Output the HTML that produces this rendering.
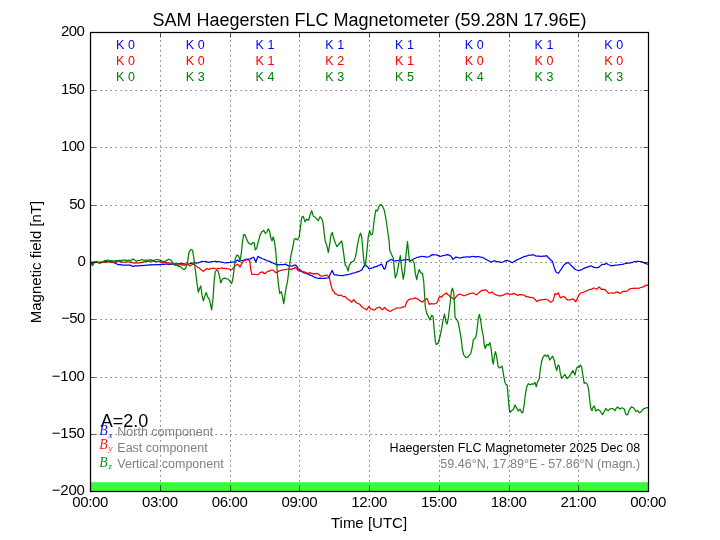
<!DOCTYPE html>
<html><head><meta charset="utf-8"><title>SAM Haegersten FLC Magnetometer</title>
<style>
html,body{margin:0;padding:0;background:#fff;}
body{width:720px;height:540px;overflow:hidden;}
svg{display:block;font-family:"Liberation Sans",Arial,Helvetica,sans-serif;}
.t15{font-size:15px;fill:#000}
.t125{font-size:12.5px}
.g{stroke:#000;stroke-width:0.625;stroke-dasharray:1.25 3.75;fill:none}
.tk{stroke:#000;stroke-width:0.625;fill:none}
.ln{fill:none;stroke-width:1.25;stroke-linejoin:round;stroke-linecap:butt}
.m{font-family:"Liberation Serif","DejaVu Serif",serif;font-style:italic}
</style></head><body>
<svg width="720" height="540" viewBox="0 0 720 540">
<rect width="720" height="540" fill="#fff"/>

<rect x="90.0" y="482.22" width="558.0" height="9.18" fill="#38fc38"/>
<clipPath id="c"><rect x="90.0" y="32.4" width="558.0" height="459.0"/></clipPath><g clip-path="url(#c)">
<path class="ln" stroke="#0000ff" d="M90.0,262.2 L90.8,262.4 L92.2,262.4 L93.6,262.1 L95.0,262.0 L96.2,262.3 L97.5,262.3 L98.8,262.6 L100.0,263.1 L101.2,262.6 L102.5,262.2 L103.8,262.2 L105.0,261.7 L106.1,261.7 L107.2,261.4 L108.3,261.4 L109.4,261.4 L110.6,261.8 L111.7,262.1 L112.8,262.3 L113.9,262.8 L115.0,263.1 L116.1,263.4 L117.2,264.2 L118.3,264.7 L119.6,264.7 L120.8,264.6 L122.1,265.1 L123.3,265.0 L124.4,265.1 L125.6,265.2 L126.7,265.1 L127.8,265.2 L128.9,265.0 L130.0,265.1 L131.2,265.6 L132.5,266.3 L133.7,266.3 L134.8,265.9 L136.0,265.8 L137.2,265.8 L138.3,266.0 L139.4,265.7 L140.6,265.7 L141.7,265.5 L142.8,265.5 L143.9,265.4 L145.0,265.3 L146.2,265.2 L147.5,265.0 L148.8,265.0 L150.0,264.7 L151.1,264.8 L152.2,264.8 L153.3,264.9 L154.4,264.7 L155.6,264.5 L156.7,264.8 L157.9,264.7 L159.2,264.6 L160.4,264.3 L161.7,264.3 L162.8,264.1 L163.9,264.3 L165.0,264.2 L166.1,264.1 L167.2,264.0 L168.3,264.3 L169.6,264.4 L170.8,264.0 L172.1,264.3 L173.3,264.1 L174.6,263.9 L175.8,263.8 L177.1,263.9 L178.3,263.8 L179.6,263.5 L180.8,263.8 L182.1,263.6 L183.3,263.9 L184.4,263.9 L185.6,264.2 L186.7,264.4 L187.8,264.0 L188.9,264.0 L190.0,263.6 L191.1,263.3 L192.2,263.3 L193.3,262.8 L194.6,262.9 L195.8,263.0 L197.1,263.0 L198.3,262.9 L199.4,262.3 L200.6,262.0 L201.7,261.3 L202.8,261.5 L203.9,261.5 L205.0,261.3 L206.1,261.6 L207.2,262.0 L208.3,262.4 L209.6,262.1 L210.8,261.9 L212.1,261.6 L213.3,261.5 L214.4,261.4 L215.6,261.4 L216.7,261.6 L217.8,261.5 L218.9,261.5 L220.0,261.9 L221.2,262.0 L222.5,262.4 L223.8,262.5 L225.0,263.0 L226.2,262.9 L227.5,262.5 L228.8,262.5 L230.0,262.4 L231.2,262.1 L232.5,262.2 L233.8,262.1 L235.0,262.1 L236.2,260.9 L237.5,260.1 L239.2,261.4 L240.3,260.8 L241.4,260.5 L242.5,260.4 L243.9,260.1 L245.3,259.5 L246.7,259.2 L247.8,259.2 L248.9,259.1 L250.0,259.1 L251.2,258.4 L252.4,257.8 L253.7,257.2 L255.8,261.9 L258.0,256.3 L259.4,257.3 L260.8,257.8 L262.0,258.5 L263.2,259.0 L264.3,259.3 L265.5,259.8 L266.7,260.5 L267.9,260.8 L269.2,261.3 L270.4,261.9 L271.7,262.6 L272.9,262.9 L274.2,263.5 L275.4,264.1 L276.7,264.8 L277.9,264.6 L279.2,264.8 L280.4,264.5 L281.7,264.6 L282.8,264.6 L283.9,264.5 L285.0,264.2 L286.1,264.6 L287.2,265.1 L288.3,265.8 L289.7,265.7 L291.1,266.0 L292.5,266.0 L293.6,265.4 L294.7,265.2 L295.8,265.1 L297.1,266.9 L298.3,268.8 L299.6,269.6 L300.8,270.4 L302.1,271.5 L303.3,272.6 L304.4,272.8 L305.6,273.3 L306.7,273.7 L307.8,274.1 L308.9,274.5 L310.0,275.2 L311.1,275.4 L312.2,275.8 L313.3,276.7 L314.4,277.2 L315.6,277.7 L316.7,278.0 L317.8,278.2 L318.9,278.3 L320.0,278.1 L321.1,278.3 L322.2,278.4 L323.3,278.4 L324.6,278.3 L325.8,278.1 L327.1,278.0 L328.3,277.9 L330.0,274.8 L332.0,270.4 L334.2,274.6 L335.6,275.0 L336.9,274.9 L338.3,275.5 L339.6,275.4 L340.8,275.5 L342.1,275.5 L343.3,275.5 L344.6,275.2 L345.8,274.8 L347.1,274.9 L348.3,274.5 L349.6,274.2 L350.8,273.9 L352.1,273.4 L353.3,273.0 L354.6,272.8 L355.8,272.4 L357.1,271.9 L358.3,271.6 L359.4,271.3 L360.6,270.5 L361.7,270.1 L362.9,267.9 L364.2,265.7 L365.8,265.0 L366.9,266.4 L368.1,267.3 L369.2,268.8 L370.6,268.4 L371.9,268.0 L373.3,267.6 L374.6,266.9 L375.8,266.7 L377.1,266.4 L378.3,265.6 L379.4,265.2 L380.6,264.6 L381.7,264.2 L382.9,266.6 L384.2,269.2 L385.3,268.4 L386.7,262.3 L388.1,261.4 L389.4,260.5 L390.8,259.5 L392.2,259.9 L393.6,260.6 L395.0,261.0 L396.1,260.6 L397.2,260.7 L398.3,260.5 L399.4,260.4 L400.6,260.4 L401.7,260.4 L402.9,260.2 L404.2,259.9 L405.4,259.7 L406.7,259.6 L407.9,259.7 L409.2,260.0 L410.4,260.3 L411.7,260.3 L412.9,259.5 L414.2,258.8 L415.4,258.2 L416.7,257.5 L417.9,257.3 L419.2,256.9 L420.4,256.7 L421.7,256.4 L422.9,256.5 L424.2,256.6 L425.4,256.8 L426.7,257.1 L428.3,257.0 L429.7,256.3 L431.1,255.4 L432.5,254.6 L433.9,254.8 L435.3,255.0 L436.7,254.8 L437.8,255.4 L438.9,255.9 L440.0,256.5 L441.4,256.2 L442.8,255.6 L444.2,255.5 L445.3,255.2 L446.4,254.8 L447.5,254.7 L448.6,254.9 L449.7,255.6 L450.8,255.9 L453.0,259.3 L454.4,258.2 L455.8,257.1 L457.2,257.4 L458.6,257.7 L460.0,257.8 L461.2,257.8 L462.5,257.3 L463.8,257.1 L465.0,257.1 L466.2,256.8 L467.5,256.8 L468.8,256.8 L470.0,257.2 L471.1,256.6 L472.2,256.4 L473.3,256.5 L474.6,256.5 L475.8,257.1 L477.1,256.7 L478.3,256.5 L479.7,256.9 L481.1,257.1 L482.5,257.6 L483.9,258.0 L485.3,259.1 L486.7,259.7 L488.1,260.5 L489.4,261.1 L490.8,262.1 L491.9,261.8 L493.1,261.0 L494.2,260.8 L495.3,261.1 L496.4,261.5 L497.5,261.6 L498.9,261.8 L500.3,262.1 L501.7,262.5 L502.9,262.0 L504.2,261.3 L505.4,260.8 L506.7,260.3 L507.8,260.7 L508.9,261.2 L510.0,261.5 L511.2,262.1 L512.5,262.7 L513.9,261.6 L515.3,260.9 L516.7,259.9 L518.1,259.4 L519.4,258.8 L520.8,258.1 L522.2,257.5 L523.6,256.9 L525.0,256.4 L526.4,256.2 L527.8,255.5 L529.2,255.2 L530.6,255.2 L531.9,255.1 L533.3,254.7 L534.4,255.2 L535.6,255.9 L536.7,256.2 L537.9,256.2 L539.2,256.2 L540.4,256.4 L541.7,256.3 L542.9,256.1 L544.2,256.2 L545.4,256.1 L546.7,255.7 L547.8,257.0 L548.9,258.0 L550.0,259.3 L551.2,260.5 L552.5,261.6 L554.2,267.4 L555.8,271.8 L557.1,272.7 L558.3,273.3 L559.6,271.5 L560.8,269.9 L562.1,267.8 L563.3,265.9 L564.6,264.4 L565.8,263.5 L567.1,262.9 L568.3,262.5 L569.4,263.6 L570.6,264.9 L571.7,266.0 L572.8,267.0 L573.9,268.0 L575.0,269.3 L576.5,270.0 L578.0,270.5 L579.2,270.3 L580.4,270.1 L581.7,269.7 L583.1,268.8 L584.4,268.1 L585.8,267.6 L587.1,267.2 L588.3,266.8 L589.6,266.4 L590.8,265.7 L591.9,266.3 L593.1,266.8 L594.2,267.4 L595.6,267.6 L596.9,267.6 L598.3,267.7 L599.4,266.5 L600.6,265.8 L601.7,264.6 L602.9,264.4 L604.2,264.3 L605.4,263.8 L606.7,263.5 L608.1,264.5 L609.4,265.0 L610.8,265.8 L612.2,265.7 L613.6,265.6 L615.0,265.1 L616.2,265.1 L617.5,265.0 L618.8,264.8 L620.0,264.6 L621.2,264.5 L622.5,264.4 L623.8,263.9 L625.0,263.7 L626.2,263.4 L627.5,263.2 L628.8,263.2 L630.0,262.8 L631.4,262.7 L632.8,262.3 L634.2,261.5 L635.6,261.7 L636.9,261.3 L638.3,261.3 L639.7,261.5 L641.1,261.6 L642.5,262.1 L643.6,262.6 L644.7,263.2 L645.8,263.6 L647.1,264.0 L648.3,264.4"/>
<path class="ln" stroke="#ff0000" d="M90.0,262.2 L90.8,262.7 L92.5,264.2 L94.2,262.2 L95.3,262.5 L96.5,262.4 L97.7,262.7 L98.8,262.7 L100.0,262.6 L101.1,262.1 L102.2,262.5 L103.3,262.4 L104.4,261.9 L105.6,262.4 L106.7,262.1 L107.9,261.6 L109.0,262.3 L110.2,261.5 L111.4,261.7 L112.6,262.0 L113.8,261.8 L115.0,261.7 L116.2,261.8 L117.4,261.7 L118.6,261.6 L119.8,261.6 L121.0,261.5 L122.1,262.1 L123.3,262.2 L124.4,262.0 L125.6,262.2 L126.7,261.9 L127.8,261.8 L128.9,261.9 L130.0,262.3 L131.1,261.9 L132.2,262.7 L133.3,262.8 L134.6,263.2 L135.8,262.9 L137.1,262.8 L138.3,262.9 L139.6,262.8 L140.8,262.7 L142.1,262.1 L143.3,262.3 L144.4,261.5 L145.6,261.6 L146.7,261.3 L147.8,261.2 L148.9,261.7 L150.0,261.5 L151.1,261.0 L152.2,261.1 L153.3,261.3 L154.4,261.5 L155.6,261.6 L156.7,261.6 L157.8,261.6 L158.9,261.4 L160.0,261.8 L161.1,261.8 L162.2,262.3 L163.3,262.6 L164.6,262.4 L165.8,262.5 L167.1,263.1 L168.3,262.6 L169.6,263.4 L170.8,263.7 L172.1,263.9 L173.3,263.6 L174.4,264.2 L175.6,264.6 L176.7,265.1 L178.1,265.3 L179.4,264.9 L180.8,264.5 L182.2,265.1 L183.6,264.9 L185.0,265.1 L186.2,264.8 L187.5,263.7 L188.8,265.2 L190.0,266.0 L192.0,264.7 L194.2,264.2 L195.4,265.4 L196.7,266.4 L197.8,267.4 L198.9,267.6 L200.0,268.7 L201.1,269.7 L202.2,270.4 L203.3,271.4 L204.6,270.4 L205.8,269.0 L207.1,268.6 L208.3,269.4 L209.4,269.1 L210.6,268.4 L211.7,268.5 L212.9,268.4 L214.2,268.3 L215.4,268.7 L216.7,269.1 L217.9,268.3 L219.2,268.7 L220.4,268.3 L221.7,267.7 L222.9,268.4 L224.2,268.3 L225.4,268.6 L226.7,268.5 L228.1,269.0 L229.4,269.1 L230.8,269.9 L232.1,269.2 L233.3,268.3 L234.6,266.4 L235.8,265.2 L237.5,264.2 L238.8,265.5 L240.0,267.1 L241.2,264.6 L242.5,262.2 L243.8,261.1 L245.0,260.3 L246.2,260.2 L247.5,259.7 L249.7,260.8 L250.8,270.1 L252.0,274.5 L253.5,274.4 L255.0,274.4 L256.2,274.5 L257.5,274.7 L258.8,274.1 L260.0,272.7 L261.7,271.9 L262.8,272.4 L263.9,273.1 L265.0,273.8 L266.1,272.6 L267.2,271.7 L268.3,271.1 L269.7,271.1 L271.1,270.1 L272.5,270.0 L273.6,270.7 L274.7,271.7 L275.8,272.7 L277.1,272.2 L278.3,271.4 L279.4,270.8 L280.6,270.4 L281.7,270.0 L282.8,270.2 L283.9,269.7 L285.0,269.6 L286.1,269.5 L287.2,269.0 L288.3,268.9 L289.4,268.6 L290.6,269.2 L291.7,269.6 L292.9,268.5 L294.1,268.6 L295.3,267.2 L296.8,268.8 L298.3,270.8 L299.6,270.8 L300.8,271.5 L302.1,271.6 L303.3,271.7 L304.6,271.9 L305.8,272.9 L307.1,272.8 L308.3,273.6 L310.0,272.5 L311.1,273.4 L312.2,273.4 L313.3,273.9 L314.4,273.7 L315.6,273.9 L316.7,273.4 L317.8,273.9 L318.9,274.3 L320.0,275.5 L321.1,276.1 L322.2,276.1 L323.3,275.9 L324.4,275.6 L325.6,275.3 L326.7,275.0 L327.9,276.0 L329.2,277.1 L330.8,284.3 L332.5,290.4 L333.8,291.4 L335.0,293.8 L336.1,293.9 L337.2,294.7 L338.3,295.4 L339.4,295.7 L340.6,295.1 L341.7,295.7 L342.8,296.2 L343.9,296.8 L345.0,296.3 L346.1,297.5 L347.2,299.0 L348.3,299.3 L349.4,300.3 L350.6,301.1 L351.7,302.2 L353.7,299.6 L355.8,302.2 L356.9,303.1 L358.1,303.5 L359.2,304.0 L360.4,305.0 L361.7,306.7 L362.9,307.4 L364.2,308.6 L365.4,308.9 L366.7,309.9 L368.7,306.7 L370.8,309.0 L371.9,309.1 L373.1,309.9 L374.2,310.1 L375.4,309.2 L376.7,307.9 L378.2,307.7 L379.7,307.2 L381.1,308.9 L382.5,309.6 L384.7,307.5 L385.8,308.8 L387.0,309.8 L388.3,310.3 L389.7,311.4 L391.1,311.0 L392.5,309.8 L393.8,309.5 L395.0,309.0 L396.2,308.0 L397.5,307.9 L398.8,308.0 L400.0,307.9 L401.2,307.6 L402.5,307.1 L403.8,306.8 L405.0,306.7 L407.0,301.3 L408.7,299.7 L410.2,299.1 L411.7,298.8 L412.8,299.0 L413.9,298.4 L415.0,297.9 L416.1,298.3 L417.2,299.0 L418.3,299.2 L420.0,300.9 L421.2,301.3 L422.5,302.1 L423.8,300.6 L425.0,300.1 L427.0,298.3 L429.2,304.4 L430.4,303.8 L431.7,303.6 L432.9,303.8 L434.2,303.9 L435.4,303.5 L436.7,303.0 L437.9,300.7 L439.2,297.2 L440.4,296.7 L441.7,297.1 L442.9,295.1 L444.2,294.5 L446.3,293.0 L447.8,294.5 L449.2,295.6 L450.4,297.0 L451.7,297.6 L452.9,298.5 L454.2,299.4 L455.3,298.1 L456.4,296.3 L457.5,295.1 L458.6,294.7 L459.7,294.1 L460.8,294.5 L461.9,294.8 L463.1,295.6 L464.2,295.6 L465.6,295.3 L466.9,294.7 L468.3,294.4 L469.7,293.4 L471.1,293.3 L472.5,293.0 L473.9,293.2 L475.3,294.2 L476.7,294.9 L477.8,293.6 L478.9,292.8 L480.0,291.8 L481.1,290.9 L482.2,290.4 L483.3,290.4 L484.6,289.9 L485.8,289.9 L486.9,290.7 L488.1,292.0 L489.2,293.0 L490.4,292.9 L491.7,291.9 L492.8,292.8 L493.9,293.8 L495.0,294.3 L496.4,295.1 L497.8,295.3 L499.2,295.8 L500.6,295.8 L501.9,295.4 L503.3,295.1 L504.7,294.2 L506.1,294.0 L507.5,293.2 L508.6,294.1 L509.7,294.3 L510.8,294.0 L511.9,294.4 L513.1,293.6 L514.2,293.3 L515.3,294.4 L516.4,294.6 L517.5,295.3 L518.6,295.2 L519.7,294.5 L520.8,294.9 L521.9,294.7 L523.1,295.0 L524.2,295.2 L525.3,296.1 L526.4,296.7 L527.5,296.8 L528.8,296.9 L530.0,297.3 L531.2,297.7 L532.5,297.6 L533.8,298.3 L535.0,299.4 L536.7,301.5 L537.9,300.9 L539.2,300.1 L540.3,300.1 L541.4,299.8 L542.5,299.7 L543.6,299.6 L544.7,299.4 L545.8,299.2 L547.1,299.8 L548.3,300.2 L549.6,301.7 L550.8,302.3 L553.0,300.8 L555.0,293.7 L556.7,294.4 L558.3,292.8 L560.3,297.8 L562.5,296.9 L563.8,296.6 L565.0,297.2 L566.2,298.8 L567.5,300.0 L568.8,299.9 L570.0,299.9 L571.5,299.2 L573.0,298.9 L574.4,300.0 L575.8,301.8 L577.1,298.8 L578.3,296.3 L579.6,294.2 L580.8,293.0 L582.1,292.5 L583.3,292.4 L584.4,291.8 L585.6,291.0 L586.7,290.9 L587.8,290.1 L588.9,289.9 L590.0,289.4 L591.1,289.5 L592.2,288.7 L593.3,288.1 L594.4,288.2 L595.6,288.8 L596.7,289.3 L597.9,288.1 L599.2,287.0 L600.4,288.4 L601.7,289.4 L602.8,289.2 L603.9,289.6 L605.0,289.4 L606.1,290.6 L607.2,292.2 L608.3,293.4 L609.4,293.1 L610.6,293.0 L611.7,292.9 L612.8,293.2 L613.9,293.1 L615.0,292.9 L616.2,292.1 L617.5,291.8 L618.8,292.9 L620.0,293.6 L621.1,292.8 L622.2,291.9 L623.3,291.3 L624.6,291.2 L625.8,291.4 L626.9,291.0 L628.1,290.4 L629.2,289.2 L630.3,288.8 L631.4,288.5 L632.5,288.3 L633.6,288.5 L634.7,288.1 L635.8,288.4 L637.1,288.0 L638.3,288.5 L639.4,288.1 L640.6,287.5 L641.7,287.3 L642.8,286.9 L643.9,286.6 L645.0,285.9 L646.1,285.1 L647.2,285.3 L648.3,285.0"/>
<path class="ln" stroke="#008000" d="M90.0,262.0 L90.8,263.0 L92.5,265.7 L94.2,262.6 L95.8,261.6 L97.1,261.6 L98.3,262.6 L99.4,262.2 L100.6,262.2 L101.7,262.3 L102.8,261.8 L103.9,261.1 L105.0,260.3 L106.1,260.7 L107.2,260.2 L108.3,260.2 L109.6,260.7 L110.8,260.5 L112.1,260.5 L113.3,261.1 L114.4,261.1 L115.6,260.6 L116.7,260.6 L117.8,260.5 L118.9,260.3 L120.0,260.3 L121.1,260.8 L122.2,260.1 L123.3,260.2 L124.4,260.2 L125.6,260.1 L126.7,260.3 L127.9,260.4 L129.2,260.4 L130.4,260.2 L131.7,260.2 L133.0,259.0 L135.0,260.3 L136.2,261.1 L137.5,260.7 L138.8,260.5 L140.0,260.3 L142.0,259.5 L144.2,260.5 L145.3,260.1 L146.4,260.1 L147.5,260.5 L148.6,259.8 L149.7,260.2 L150.8,259.6 L151.9,260.3 L153.1,260.3 L154.2,260.4 L155.6,259.8 L156.9,259.5 L158.3,259.7 L159.6,259.8 L160.8,260.3 L161.9,261.1 L163.1,261.5 L164.2,261.4 L165.4,261.3 L166.7,260.4 L168.7,259.2 L170.8,260.1 L172.1,261.6 L173.3,263.3 L175.0,265.3 L176.7,264.7 L178.3,266.4 L179.6,266.6 L180.8,266.9 L182.5,268.6 L184.2,269.7 L185.8,268.1 L187.5,262.8 L188.7,253.7 L190.0,250.3 L191.3,249.5 L192.5,250.2 L193.7,257.0 L194.7,265.0 L195.8,273.5 L197.0,283.2 L198.3,292.2 L199.7,288.2 L200.8,286.0 L202.0,295.2 L203.3,300.9 L204.7,296.6 L206.2,292.5 L207.5,296.6 L209.2,299.2 L210.3,303.6 L211.7,309.8 L213.0,298.4 L214.2,280.3 L215.3,271.6 L216.7,270.1 L218.0,270.7 L219.2,275.2 L220.8,282.8 L222.5,279.0 L224.7,278.1 L226.7,278.9 L228.3,279.0 L230.0,281.6 L231.7,283.6 L233.0,278.1 L234.2,268.0 L235.3,258.6 L237.0,254.9 L238.7,256.2 L240.0,261.0 L241.3,253.3 L242.5,241.9 L243.7,234.7 L245.0,234.7 L246.3,238.3 L247.5,241.4 L249.2,243.7 L251.3,244.5 L253.0,242.5 L254.2,242.9 L255.3,249.9 L256.7,248.2 L258.3,241.7 L260.0,235.3 L261.7,232.0 L263.7,230.3 L265.3,233.6 L266.7,232.4 L268.3,228.7 L269.7,231.5 L270.8,238.1 L272.0,240.8 L273.3,236.8 L274.7,243.2 L275.8,251.8 L276.7,263.2 L277.5,275.3 L278.7,286.6 L279.7,293.3 L281.3,291.7 L282.5,296.9 L283.7,303.7 L285.0,295.0 L286.3,286.6 L287.5,281.8 L288.7,271.4 L290.0,261.6 L291.3,253.6 L292.5,248.5 L294.2,239.4 L295.8,238.6 L297.5,239.9 L299.2,237.0 L300.3,228.2 L301.7,217.3 L303.3,216.4 L305.0,221.9 L306.7,219.1 L308.7,220.3 L310.0,215.1 L311.7,210.7 L313.3,216.2 L315.0,217.0 L316.7,219.1 L318.3,220.7 L320.0,216.8 L321.7,218.6 L323.0,222.6 L324.2,233.1 L325.3,241.5 L326.7,244.9 L328.3,252.6 L329.7,244.7 L330.8,235.5 L332.2,232.4 L333.7,238.2 L335.3,243.0 L337.0,246.7 L338.7,244.5 L340.3,242.5 L341.7,241.0 L343.0,248.6 L344.2,257.7 L345.3,265.3 L346.7,266.6 L348.0,271.0 L349.2,265.6 L350.8,262.8 L352.5,261.6 L354.2,260.8 L355.8,255.3 L357.5,244.9 L359.2,236.5 L360.5,233.2 L361.7,236.7 L362.7,248.0 L363.7,259.7 L364.7,266.6 L365.8,261.3 L367.0,250.2 L368.3,236.4 L369.7,230.7 L371.0,234.9 L372.5,234.2 L374.2,220.0 L375.8,210.1 L377.5,210.9 L379.2,205.8 L380.8,204.4 L382.5,206.2 L384.2,210.1 L385.8,218.0 L387.5,230.0 L389.2,241.8 L389.7,250.3 L391.7,254.7 L393.3,258.0 L394.2,268.3 L395.3,277.9 L397.0,273.6 L398.7,263.6 L400.3,255.7 L401.7,268.3 L403.3,279.2 L404.7,270.3 L405.8,256.5 L407.5,241.6 L408.3,249.7 L409.5,261.8 L410.8,260.5 L412.5,260.3 L414.2,263.3 L415.3,273.4 L416.7,279.7 L418.0,273.1 L419.2,269.6 L420.8,272.8 L422.5,273.4 L423.7,281.5 L424.7,297.0 L425.3,306.8 L426.7,313.3 L428.3,316.5 L430.0,319.9 L431.7,315.3 L433.0,316.4 L434.2,330.0 L435.3,340.9 L436.3,344.6 L438.0,343.5 L439.7,337.8 L441.3,330.3 L443.0,320.2 L444.5,314.0 L445.8,321.4 L447.0,324.1 L448.3,318.2 L449.7,306.5 L450.8,296.9 L451.3,291.5 L452.5,288.2 L453.8,293.6 L454.5,304.7 L455.0,317.0 L456.7,319.6 L458.0,321.5 L459.7,329.8 L461.3,339.7 L462.5,350.0 L463.7,354.9 L465.8,357.7 L467.5,357.2 L469.2,355.5 L470.8,353.3 L472.0,348.3 L473.3,339.8 L474.7,338.5 L475.8,337.3 L477.0,330.1 L478.3,318.2 L479.5,314.4 L480.8,321.5 L482.0,330.0 L483.3,335.9 L484.2,344.8 L485.3,348.5 L486.7,344.5 L488.3,345.4 L490.0,342.6 L491.3,349.8 L492.5,361.0 L493.3,364.1 L494.5,355.0 L495.5,351.7 L496.7,356.8 L498.0,365.8 L499.2,368.0 L500.8,366.9 L502.0,366.1 L503.0,371.7 L504.2,378.4 L504.7,381.5 L505.8,384.4 L507.2,385.1 L508.3,398.1 L509.2,408.6 L510.0,412.3 L511.7,410.7 L513.3,409.5 L515.0,405.0 L516.7,408.1 L518.3,411.0 L520.0,409.1 L521.7,412.7 L522.8,412.6 L524.2,404.7 L525.3,395.0 L526.7,386.9 L528.3,383.7 L530.0,384.7 L531.7,383.9 L533.7,384.1 L535.0,382.5 L536.3,386.7 L537.5,381.9 L539.2,379.0 L540.3,369.7 L541.7,361.0 L543.3,356.7 L545.0,354.9 L546.7,356.6 L548.0,354.9 L549.7,360.0 L551.3,357.8 L552.7,356.1 L554.2,360.2 L555.3,365.7 L556.7,370.5 L558.0,365.1 L559.2,366.0 L560.3,373.2 L561.7,378.3 L563.3,376.4 L565.0,374.5 L567.0,378.5 L569.2,376.7 L570.8,374.1 L572.8,370.6 L575.0,375.0 L576.3,369.0 L577.5,366.8 L579.2,367.3 L580.3,364.9 L581.7,367.3 L582.8,374.9 L584.2,383.4 L585.8,382.7 L587.5,384.7 L588.7,390.0 L589.7,399.8 L590.8,408.3 L592.0,410.6 L592.5,408.1 L594.2,405.9 L595.8,411.1 L598.0,409.4 L600.0,410.8 L601.2,412.8 L602.5,414.7 L604.2,411.5 L605.8,408.5 L607.1,410.1 L608.3,410.6 L610.0,409.0 L611.2,408.7 L612.5,408.6 L613.8,409.3 L615.0,410.7 L616.2,408.4 L617.5,407.0 L618.8,408.1 L620.0,409.0 L622.0,407.8 L624.2,409.0 L625.8,414.4 L627.5,414.8 L629.2,410.3 L630.4,408.1 L631.7,406.8 L633.3,407.7 L634.6,409.2 L635.8,411.3 L637.5,410.7 L639.7,412.9 L641.7,411.0 L643.3,408.9 L644.6,408.7 L645.8,407.8 L648.0,407.5"/>
</g>
<path class="g" d="M160.50,491.5 V32.5"/>
<path class="g" d="M230.50,491.5 V32.5"/>
<path class="g" d="M299.50,491.5 V32.5"/>
<path class="g" d="M369.50,491.5 V32.5"/>
<path class="g" d="M439.50,491.5 V32.5"/>
<path class="g" d="M509.50,491.5 V32.5"/>
<path class="g" d="M578.50,491.5 V32.5"/>
<path class="g" d="M90.5,434.50 H648.5"/>
<path class="g" d="M90.5,377.50 H648.5"/>
<path class="g" d="M90.5,319.50 H648.5"/>
<path class="g" d="M90.5,262.50 H648.5"/>
<path class="g" d="M90.5,205.50 H648.5"/>
<path class="g" d="M90.5,147.50 H648.5"/>
<path class="g" d="M90.5,90.50 H648.5"/>
<path class="tk" d="M90.50,491.5 v-5 M90.50,32.5 v5"/>
<path class="tk" d="M160.50,491.5 v-5 M160.50,32.5 v5"/>
<path class="tk" d="M230.50,491.5 v-5 M230.50,32.5 v5"/>
<path class="tk" d="M299.50,491.5 v-5 M299.50,32.5 v5"/>
<path class="tk" d="M369.50,491.5 v-5 M369.50,32.5 v5"/>
<path class="tk" d="M439.50,491.5 v-5 M439.50,32.5 v5"/>
<path class="tk" d="M509.50,491.5 v-5 M509.50,32.5 v5"/>
<path class="tk" d="M578.50,491.5 v-5 M578.50,32.5 v5"/>
<path class="tk" d="M648.50,491.5 v-5 M648.50,32.5 v5"/>
<path class="tk" d="M90.5,491.50 h5 M648.5,491.50 h-5"/>
<path class="tk" d="M90.5,434.50 h5 M648.5,434.50 h-5"/>
<path class="tk" d="M90.5,377.50 h5 M648.5,377.50 h-5"/>
<path class="tk" d="M90.5,319.50 h5 M648.5,319.50 h-5"/>
<path class="tk" d="M90.5,262.50 h5 M648.5,262.50 h-5"/>
<path class="tk" d="M90.5,205.50 h5 M648.5,205.50 h-5"/>
<path class="tk" d="M90.5,147.50 h5 M648.5,147.50 h-5"/>
<path class="tk" d="M90.5,90.50 h5 M648.5,90.50 h-5"/>
<path class="tk" d="M90.5,32.50 h5 M648.5,32.50 h-5"/>
<rect x="90.5" y="32.5" width="558.0" height="459.0" fill="none" stroke="#000" stroke-width="1.25"/>
<text x="369.5" y="26.2" text-anchor="middle" font-size="18" fill="#000">SAM Haegersten FLC Magnetometer (59.28N 17.96E)</text>
<text class="t15" x="90.30" y="506.7" text-anchor="middle" textLength="36" lengthAdjust="spacing">00:00</text>
<text class="t15" x="160.05" y="506.7" text-anchor="middle" textLength="36" lengthAdjust="spacing">03:00</text>
<text class="t15" x="229.80" y="506.7" text-anchor="middle" textLength="36" lengthAdjust="spacing">06:00</text>
<text class="t15" x="299.55" y="506.7" text-anchor="middle" textLength="36" lengthAdjust="spacing">09:00</text>
<text class="t15" x="369.30" y="506.7" text-anchor="middle" textLength="36" lengthAdjust="spacing">12:00</text>
<text class="t15" x="439.05" y="506.7" text-anchor="middle" textLength="36" lengthAdjust="spacing">15:00</text>
<text class="t15" x="508.80" y="506.7" text-anchor="middle" textLength="36" lengthAdjust="spacing">18:00</text>
<text class="t15" x="578.55" y="506.7" text-anchor="middle" textLength="36" lengthAdjust="spacing">21:00</text>
<text class="t15" x="648.30" y="506.7" text-anchor="middle" textLength="36" lengthAdjust="spacing">00:00</text>
<text class="t15" x="84.8" y="494.80" text-anchor="end" textLength="33" lengthAdjust="spacing">−200</text>
<text class="t15" x="84.8" y="437.80" text-anchor="end" textLength="33" lengthAdjust="spacing">−150</text>
<text class="t15" x="84.8" y="380.80" text-anchor="end" textLength="33" lengthAdjust="spacing">−100</text>
<text class="t15" x="85.3" y="322.80" text-anchor="end" textLength="24" lengthAdjust="spacing">−50</text>
<text class="t15" x="85.8" y="265.80" text-anchor="end" textLength="8" lengthAdjust="spacing">0</text>
<text class="t15" x="85.3" y="208.80" text-anchor="end" textLength="16" lengthAdjust="spacing">50</text>
<text class="t15" x="84.9" y="150.80" text-anchor="end" textLength="24" lengthAdjust="spacing">100</text>
<text class="t15" x="84.9" y="93.80" text-anchor="end" textLength="24" lengthAdjust="spacing">150</text>
<text class="t15" x="84.9" y="35.80" text-anchor="end" textLength="24" lengthAdjust="spacing">200</text>
<text class="t15" x="369" y="528" text-anchor="middle">Time [UTC]</text>
<text class="t15" transform="translate(40.9,262) rotate(-90)" text-anchor="middle">Magnetic field [nT]</text>
<text class="t125" x="125.47" y="49" text-anchor="middle" fill="#0000ff">K 0</text>
<text class="t125" x="195.22" y="49" text-anchor="middle" fill="#0000ff">K 0</text>
<text class="t125" x="264.98" y="49" text-anchor="middle" fill="#0000ff">K 1</text>
<text class="t125" x="334.73" y="49" text-anchor="middle" fill="#0000ff">K 1</text>
<text class="t125" x="404.48" y="49" text-anchor="middle" fill="#0000ff">K 1</text>
<text class="t125" x="474.23" y="49" text-anchor="middle" fill="#0000ff">K 0</text>
<text class="t125" x="543.98" y="49" text-anchor="middle" fill="#0000ff">K 1</text>
<text class="t125" x="613.73" y="49" text-anchor="middle" fill="#0000ff">K 0</text>
<text class="t125" x="125.47" y="65" text-anchor="middle" fill="#ff0000">K 0</text>
<text class="t125" x="195.22" y="65" text-anchor="middle" fill="#ff0000">K 0</text>
<text class="t125" x="264.98" y="65" text-anchor="middle" fill="#ff0000">K 1</text>
<text class="t125" x="334.73" y="65" text-anchor="middle" fill="#ff0000">K 2</text>
<text class="t125" x="404.48" y="65" text-anchor="middle" fill="#ff0000">K 1</text>
<text class="t125" x="474.23" y="65" text-anchor="middle" fill="#ff0000">K 0</text>
<text class="t125" x="543.98" y="65" text-anchor="middle" fill="#ff0000">K 0</text>
<text class="t125" x="613.73" y="65" text-anchor="middle" fill="#ff0000">K 0</text>
<text class="t125" x="125.47" y="81" text-anchor="middle" fill="#008000">K 0</text>
<text class="t125" x="195.22" y="81" text-anchor="middle" fill="#008000">K 3</text>
<text class="t125" x="264.98" y="81" text-anchor="middle" fill="#008000">K 4</text>
<text class="t125" x="334.73" y="81" text-anchor="middle" fill="#008000">K 3</text>
<text class="t125" x="404.48" y="81" text-anchor="middle" fill="#008000">K 5</text>
<text class="t125" x="474.23" y="81" text-anchor="middle" fill="#008000">K 4</text>
<text class="t125" x="543.98" y="81" text-anchor="middle" fill="#008000">K 3</text>
<text class="t125" x="613.73" y="81" text-anchor="middle" fill="#008000">K 3</text>
<text x="100.7" y="426.6" font-size="18" fill="#000">A=2.0</text>
<text class="m" x="99.3" y="435.4" font-size="13.8" fill="#0000ff" fill-opacity="0.9">B<tspan font-size="9" x="108.4" dy="2.3">x</tspan></text>
<text class="t125" x="117.3" y="435.9" fill="#808080">North component</text>
<text class="m" x="99.3" y="449.0" font-size="13.8" fill="#ff0000" fill-opacity="0.9">B<tspan font-size="9" x="108.4" dy="2.3">y</tspan></text>
<text class="t125" x="117.3" y="451.7" fill="#808080">East component</text>
<text class="m" x="99.3" y="467.0" font-size="13.8" fill="#008000" fill-opacity="0.9">B<tspan font-size="9" x="108.4" dy="2.3">z</tspan></text>
<text class="t125" x="117.3" y="467.5" fill="#808080">Vertical component</text>
<text class="t125" x="640.2" y="451.8" text-anchor="end" fill="#000" textLength="250.6" lengthAdjust="spacing">Haegersten FLC Magnetometer 2025 Dec 08</text>
<text class="t125" x="640.2" y="468.1" text-anchor="end" fill="#808080">59.46°N, 17.89°E - 57.86°N (magn.)</text>
</svg></body></html>
